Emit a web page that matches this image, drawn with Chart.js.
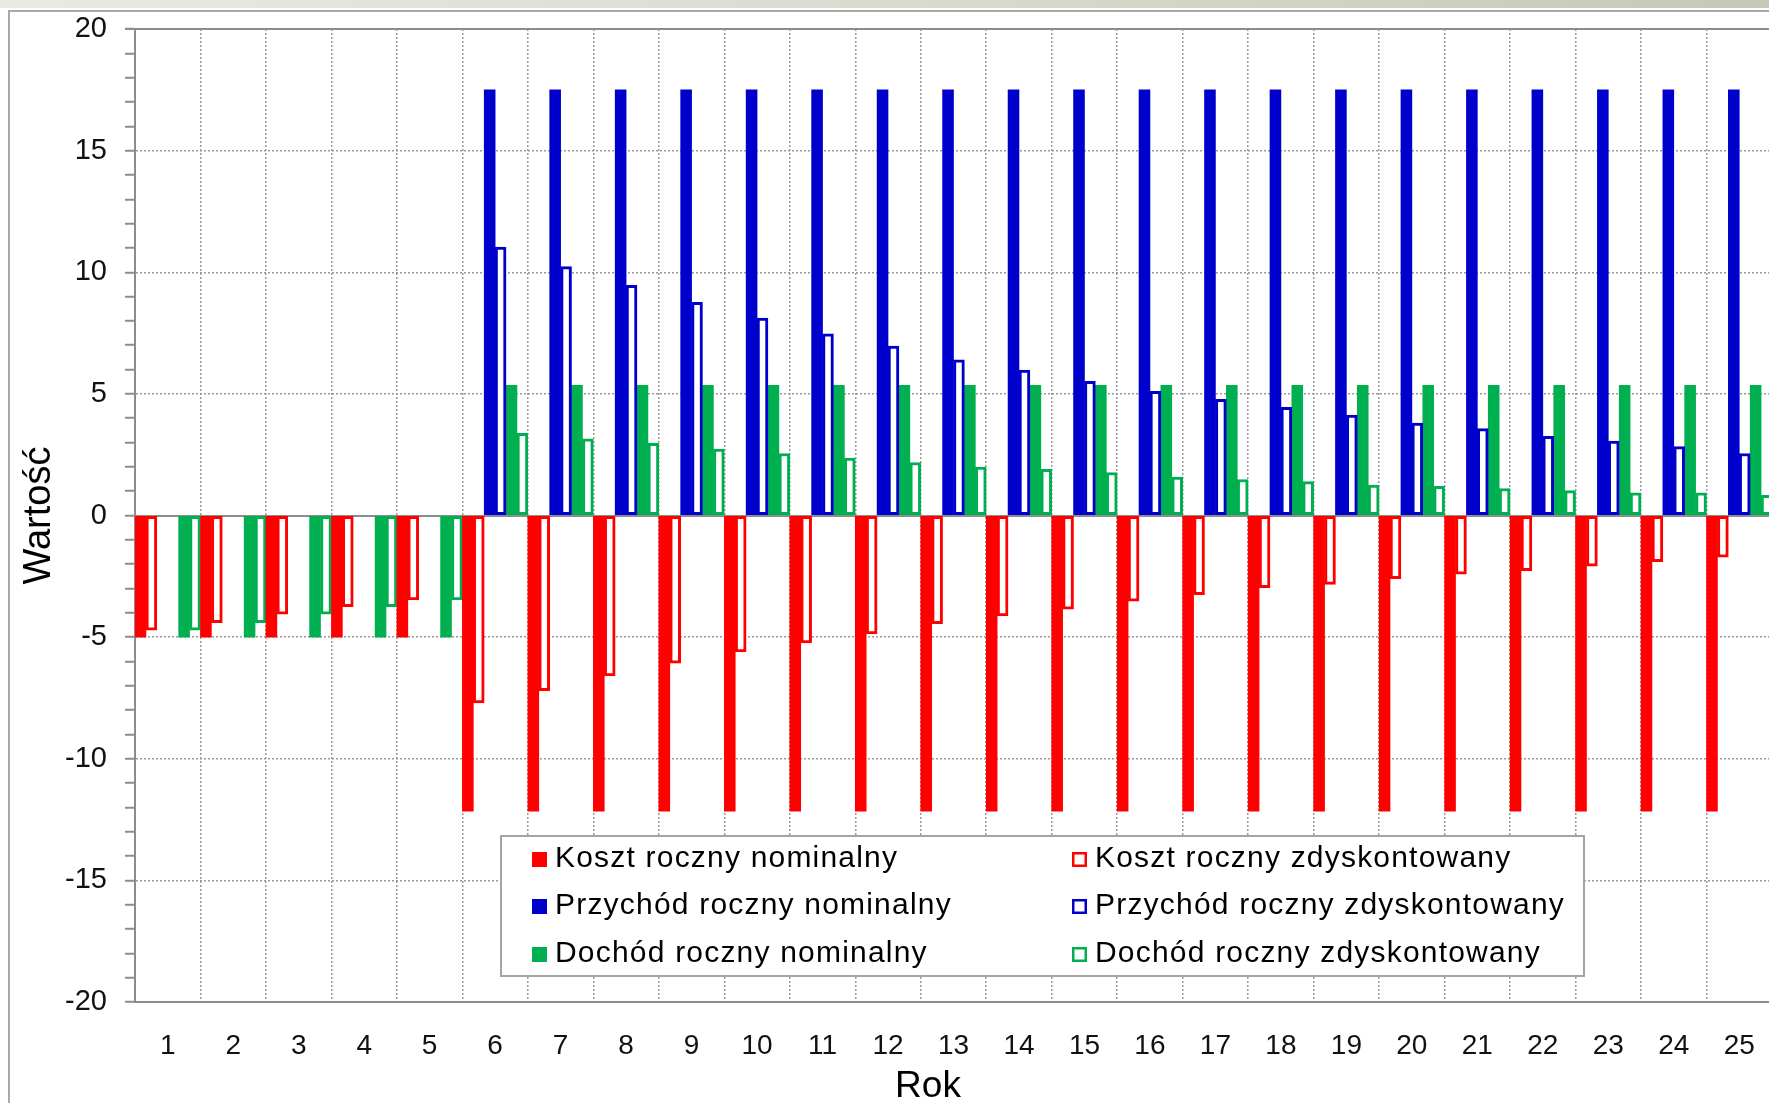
<!DOCTYPE html>
<html lang="pl">
<head>
<meta charset="utf-8">
<title>Koszt, przychód i dochód roczny</title>
<script src="https://cdn.jsdelivr.net/npm/chart.js@4.4.1/dist/chart.umd.min.js"></script>
<style>
  html, body { margin: 0; padding: 0; background: #ffffff; overflow: hidden; }
  #wrap { position: absolute; left: 0; top: 0; width: 1790px; height: 1103px; }
  canvas { display: block; }
</style>
</head>
<body>
<div id="wrap"><canvas id="c" width="1790" height="1103"></canvas></div>
<script>
// Lata analizy
const years = ['1','2','3','4','5','6','7','8','9','10','11','12','13','14','15','16','17','18','19','20','21','22','23','24','25'];

// Koszt roczny (wartości ujemne)
const kosztNominalny = [-5, -5, -5, -5, -5, -12.15, -12.15, -12.15, -12.15, -12.15, -12.15, -12.15, -12.15, -12.15, -12.15, -12.15, -12.15, -12.15, -12.15, -12.15, -12.15, -12.15, -12.15, -12.15, -12.15];
const kosztZdyskontowany = [-4.71, -4.41, -4.06, -3.75, -3.47, -7.70, -7.20, -6.59, -6.07, -5.61, -5.24, -4.87, -4.45, -4.13, -3.85, -3.52, -3.25, -2.97, -2.83, -2.60, -2.41, -2.27, -2.08, -1.90, -1.71];

// Przychód roczny (brak przychodu w okresie budowy)
const przychodNominalny = [null, null, null, null, null, 17.5, 17.5, 17.5, 17.5, 17.5, 17.5, 17.5, 17.5, 17.5, 17.5, 17.5, 17.5, 17.5, 17.5, 17.5, 17.5, 17.5, 17.5, 17.5, 17.5];
const przychodZdyskontowany = [null, null, null, null, null, 11.03, 10.23, 9.46, 8.76, 8.12, 7.47, 6.96, 6.40, 5.98, 5.52, 5.10, 4.78, 4.45, 4.13, 3.80, 3.57, 3.25, 3.06, 2.83, 2.55];

// Dochód roczny = przychód - koszt
const dochodNominalny = [-5, -5, -5, -5, -5, 5.35, 5.35, 5.35, 5.35, 5.35, 5.35, 5.35, 5.35, 5.35, 5.35, 5.35, 5.35, 5.35, 5.35, 5.35, 5.35, 5.35, 5.35, 5.35, 5.35];
const dochodZdyskontowany = [-4.71, -4.41, -4.06, -3.75, -3.47, 3.38, 3.15, 2.97, 2.73, 2.55, 2.36, 2.18, 1.99, 1.90, 1.76, 1.58, 1.48, 1.39, 1.25, 1.20, 1.11, 1.02, 0.93, 0.93, 0.83];

// Skala osi Y
const yMin = -20;
const yMax = 20;
const yMajorStep = 5;

const FONT = "'Liberation Sans', Arial, sans-serif";
const RED = '#ff0000';
const BLUE = '#0000cc';
const GREEN = '#00b050';
const AXIS = '#8c8c8c';
const GRID = '#9a9a9a';

function filled(label, data, color) {
  return { label, data, backgroundColor: color, borderColor: color, borderWidth: 0, outline: false };
}
function hollow(label, data, color) {
  return { label, data, backgroundColor: '#ffffff', borderColor: color, borderWidth: 3, borderSkipped: false, outline: true };
}

// Tło okna, ramka, górna krawędź obszaru wykresu i linia zera
const framePlugin = {
  id: 'frame',
  beforeDraw(chart) {
    const ctx = chart.ctx;
    ctx.save();
    ctx.fillStyle = '#ffffff';
    ctx.fillRect(0, 0, chart.width, chart.height);
    const g = ctx.createLinearGradient(0, 0, chart.width, 0);
    g.addColorStop(0, '#e9eae4');
    g.addColorStop(0.5, '#d9dbcf');
    g.addColorStop(1, '#c6c8b6');
    ctx.fillStyle = g;
    ctx.fillRect(0, 0, chart.width, 8);
    ctx.strokeStyle = '#a9a9a9';
    ctx.lineWidth = 2;
    ctx.beginPath();
    ctx.moveTo(9, chart.height);
    ctx.lineTo(9, 11);
    ctx.lineTo(chart.width, 11);
    ctx.stroke();
    ctx.restore();
  },
  beforeDatasetsDraw(chart) {
    const { ctx, chartArea, scales } = chart;
    const y0 = Math.round(scales.y.getPixelForValue(0));
    ctx.save();
    ctx.strokeStyle = AXIS;
    ctx.lineWidth = 2;
    ctx.beginPath();
    ctx.moveTo(chartArea.left, y0);
    ctx.lineTo(chartArea.right, y0);
    ctx.moveTo(chartArea.left - 10, chartArea.top);
    ctx.lineTo(chartArea.right, chartArea.top);
    ctx.stroke();
    ctx.restore();
  }
};

// Legenda w dwóch kolumnach wewnątrz obszaru wykresu
const legendPlugin = {
  id: 'boxLegend',
  afterDraw(chart) {
    const ctx = chart.ctx;
    const box = { x: 501, y: 836, w: 1083, h: 140 };
    const colX = [532, 1072];
    const rowY = [859, 906, 954];
    ctx.save();
    ctx.fillStyle = '#ffffff';
    ctx.fillRect(box.x, box.y, box.w, box.h);
    ctx.strokeStyle = '#a4a4a4';
    ctx.lineWidth = 2;
    ctx.strokeRect(box.x, box.y, box.w, box.h);
    ctx.font = '30px ' + FONT;
    ctx.letterSpacing = '1.2px';
    ctx.textBaseline = 'middle';
    ctx.textAlign = 'left';
    chart.data.datasets.forEach((ds, i) => {
      const col = i % 2;
      const row = Math.floor(i / 2);
      const mx = colX[col];
      const my = rowY[row];
      if (ds.outline) {
        ctx.fillStyle = '#ffffff';
        ctx.fillRect(mx, my - 7, 15, 15);
        ctx.strokeStyle = ds.borderColor;
        ctx.lineWidth = 2.5;
        ctx.strokeRect(mx + 1.25, my - 5.75, 12.5, 12.5);
      } else {
        ctx.fillStyle = ds.backgroundColor;
        ctx.fillRect(mx, my - 7, 15, 15);
      }
      ctx.fillStyle = '#000000';
      ctx.fillText(ds.label, mx + 23, my);
    });
    ctx.letterSpacing = '0px';
    // Tytuł osi X
    ctx.font = '37px ' + FONT;
    ctx.textAlign = 'center';
    ctx.fillText('Rok', 928, 1087);
    ctx.restore();
  }
};

new Chart(document.getElementById('c'), {
  type: 'bar',
  data: {
    labels: years,
    datasets: [
      filled('Koszt roczny nominalny', kosztNominalny, RED),
      hollow('Koszt roczny zdyskontowany', kosztZdyskontowany, RED),
      filled('Przychód roczny nominalny', przychodNominalny, BLUE),
      hollow('Przychód roczny zdyskontowany', przychodZdyskontowany, BLUE),
      filled('Dochód roczny nominalny', dochodNominalny, GREEN),
      hollow('Dochód roczny zdyskontowany', dochodZdyskontowany, GREEN)
    ]
  },
  options: {
    responsive: false,
    maintainAspectRatio: false,
    animation: false,
    devicePixelRatio: 1,
    layout: { padding: { left: 0, top: 29, right: 18, bottom: 0 } },
    datasets: { bar: { categoryPercentage: 1.0, barPercentage: 1.0 } },
    plugins: {
      legend: { display: false },
      tooltip: { enabled: false },
      title: { display: false }
    },
    scales: {
      x: {
        type: 'category',
        offset: true,
        afterFit(scale) { scale.height = 101; },
        grid: {
          offset: true,
          color: GRID,
          lineWidth: 1.5,
          drawTicks: false
        },
        border: { display: true, color: AXIS, width: 2, dash: [2, 2] },
        ticks: {
          padding: 27,
          color: '#111111',
          font: { family: FONT, size: 28 },
          maxRotation: 0,
          autoSkip: false
        }
      },
      y: {
        min: yMin,
        max: yMax,
        afterFit(scale) { scale.width = 135; },
        grid: {
          color: (c) => (c.tick && c.tick.value % yMajorStep === 0 && c.tick.value !== 0 ? GRID : 'rgba(0,0,0,0)'),
          lineWidth: 1.5,
          drawTicks: true,
          tickLength: 10,
          tickColor: AXIS,
          tickWidth: 2
        },
        border: { display: true, color: AXIS, width: 2, dash: [2, 2] },
        ticks: {
          stepSize: 1,
          autoSkip: false,
          padding: 18,
          color: '#111111',
          font: { family: FONT, size: 29, lineHeight: 0.7 },
          callback: (v) => (v % yMajorStep === 0 ? String(v) : '')
        },
        title: {
          display: true,
          text: 'Wartość',
          color: '#000000',
          font: { family: FONT, size: 38 },
          padding: { top: 17, bottom: 0 }
        }
      }
    }
  },
  plugins: [framePlugin, legendPlugin]
});
</script>
</body>
</html>
